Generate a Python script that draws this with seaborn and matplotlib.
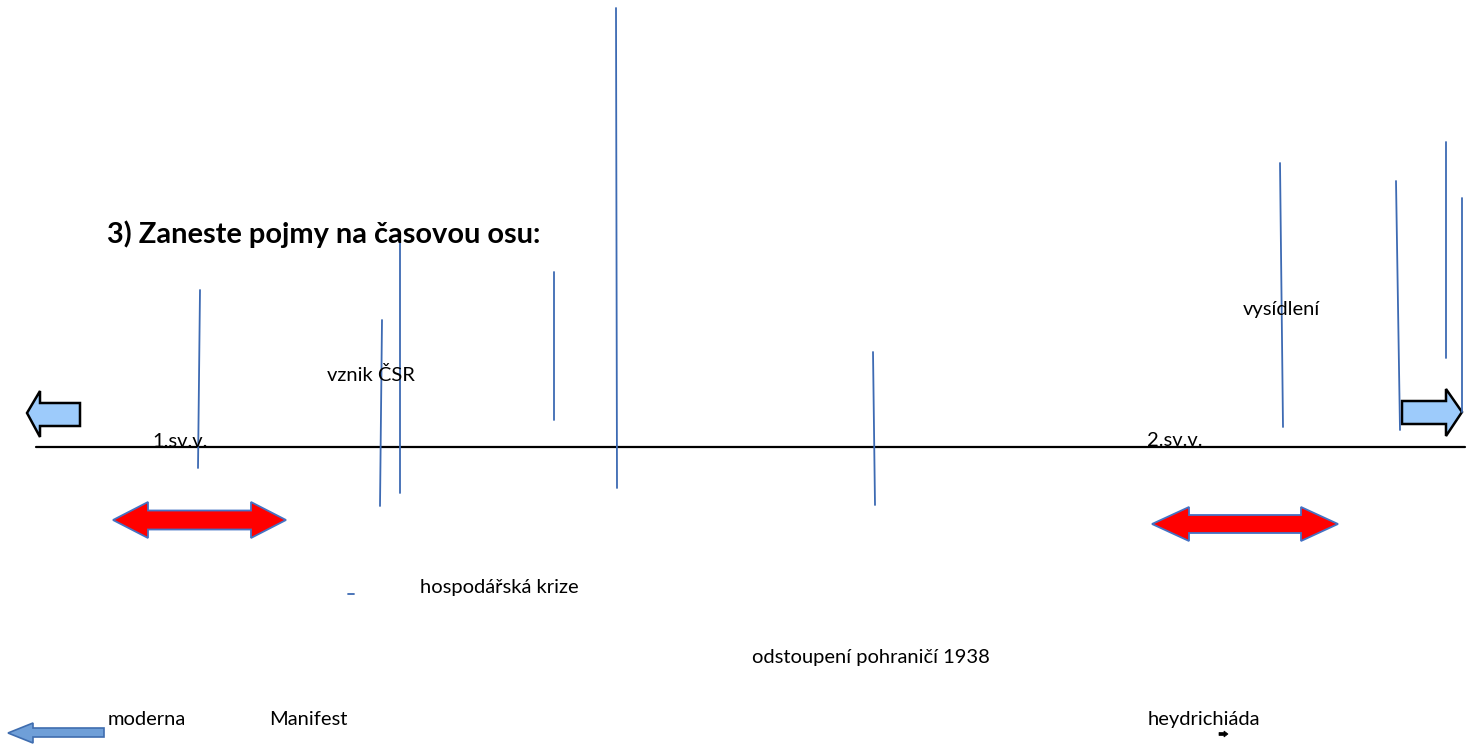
import matplotlib
matplotlib.use("Agg")
import matplotlib.pyplot as plt
from matplotlib.patches import Polygon
import seaborn as sns
import pandas as pd

# ---- data (pixel coordinates of the slide) ----
timeline_x = [36, 1465]
timeline_y = [447, 447]

# vertical blue marker lines: (x_top, y_top, x_bottom, y_bottom)
marker_x_top = [200, 382, 400, 554, 616, 873, 1280, 1396, 1446, 1462]
marker_y_top = [290, 320, 235, 272, 8, 352, 163, 181, 142, 198]
marker_x_bot = [198, 380, 400, 554, 617, 875, 1283, 1400, 1446, 1462]
marker_y_bot = [468, 506, 493, 420, 488, 505, 427, 430, 358, 412]

labels = ["1.sv.v.", "2.sv.v.", "vznik ČSR", "vysídlení", "hospodářská krize",
          "odstoupení pohraničí 1938", "moderna", "Manifest", "heydrichiáda"]
label_x = [152, 1147, 327, 1243, 420, 752, 108, 269, 1148]
label_y = [447, 446, 381, 315, 593, 663, 725, 725, 725]

title = "3) Zaneste pojmy na časovou osu:"

# double arrows: (left tip, left head base, right head base, right tip, y, head half-height, shaft half-height)
red_left_tip = [113, 1152]
red_left_base = [148, 1189]
red_right_base = [251, 1301]
red_right_tip = [286, 1338]
red_y = [520, 524]
red_head_h = [18, 17]
red_shaft_h = [9.5, 9]

sns.set_theme(style="white")
plt.rcParams['font.family'] = ['Lato', 'DejaVu Sans']

fig = plt.figure(figsize=(14.72, 7.44), dpi=100)
ax = fig.add_axes([0, 0, 1, 1])
ax.set_xlim(0, 1472)
ax.set_ylim(744, 0)
ax.axis("off")

blue = "#3D6AB3"

# timeline
tl = pd.DataFrame({"x": timeline_x, "y": timeline_y})
sns.lineplot(data=tl, x="x", y="y", ax=ax, color="black", lw=1.6, sort=False)

# marker lines
rows = []
for i in range(len(marker_x_top)):
    rows.append({"id": i, "x": marker_x_top[i], "y": marker_y_top[i], "o": 0})
    rows.append({"id": i, "x": marker_x_bot[i], "y": marker_y_bot[i], "o": 1})
mk = pd.DataFrame(rows)
sns.lineplot(data=mk, x="x", y="y", units="id", estimator=None, ax=ax,
             color=blue, lw=1.3, sort=False)
# tiny dash
ax.plot([348, 354], [594, 594], color=blue, lw=1.3)

# red double arrows
for i in range(len(red_y)):
    y = red_y[i]
    hh = red_head_h[i]
    sh = red_shaft_h[i]
    pts = [(red_left_tip[i], y), (red_left_base[i], y - hh), (red_left_base[i], y - sh),
           (red_right_base[i], y - sh), (red_right_base[i], y - hh), (red_right_tip[i], y),
           (red_right_base[i], y + hh), (red_right_base[i], y + sh), (red_left_base[i], y + sh),
           (red_left_base[i], y + hh)]
    ax.add_patch(Polygon(pts, closed=True, facecolor="#FF0000", edgecolor="#4472C4", lw=1.3))

# light blue block arrows
left_arrow = [(27, 413), (40, 391), (40, 403), (80, 403), (80, 426), (40, 426), (40, 437)]
right_arrow = [(1462, 412), (1446, 389), (1446, 401), (1402, 401), (1402, 424), (1446, 424), (1446, 436)]
for pts in (left_arrow, right_arrow):
    ax.add_patch(Polygon(pts, closed=True, facecolor="#9DCBFB", edgecolor="black", lw=1.8))

# bottom-left blue arrow
bl_arrow = [(8, 733), (33, 723), (33, 728), (104, 728), (104, 737), (33, 737), (33, 743)]
ax.add_patch(Polygon(bl_arrow, closed=True, facecolor="#6F9FD8", edgecolor="#3F6DAF", lw=1.2))

# tiny black arrow
tiny = [(1219, 732.5), (1224, 732.5), (1224, 731), (1228, 734), (1224, 737), (1224, 735.5), (1219, 735.5)]
ax.add_patch(Polygon(tiny, closed=True, facecolor="black", edgecolor="black", lw=0.5))

# labels
for t, x, y in zip(labels, label_x, label_y):
    ax.text(x, y, t, fontsize=14.5, color="black", ha="left", va="baseline")

ax.text(107, 243, title, fontsize=20.9, fontweight="bold", color="black",
        ha="left", va="baseline")

fig.savefig("out.png", dpi=100)
